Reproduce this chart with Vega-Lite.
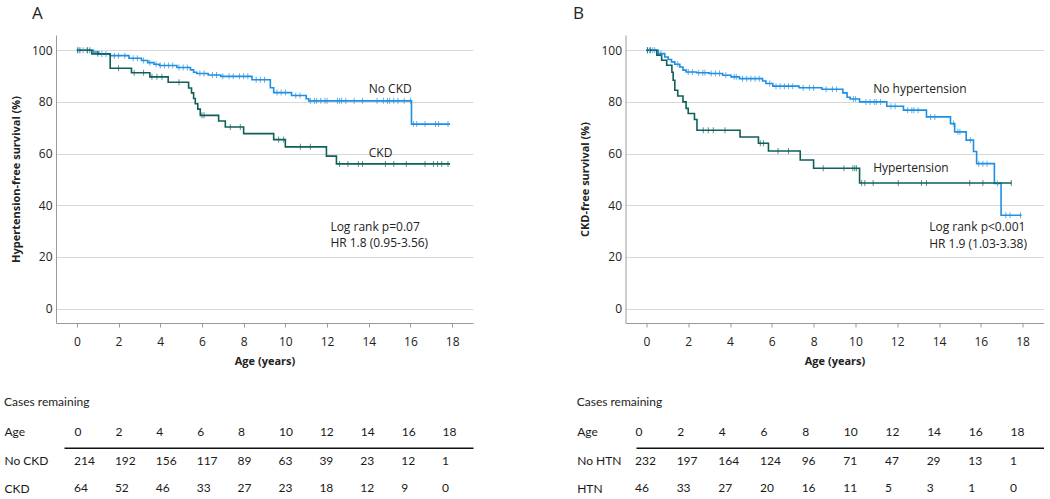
{
  "$schema": "https://vega.github.io/schema/vega-lite/v6.json",
  "padding": {"left": 4, "top": 5, "right": 0, "bottom": 0},
  "background": "white",
  "config": {
    "view": {"stroke": null},
    "font": "Open Sans",
    "axis": {"labelFont": "Open Sans", "titleFont": "Open Sans", "labelColor": "#222222", "titleColor": "#222222"},
    "title": {"font": "Open Sans", "color": "#222222"},
    "text": {"font": "Open Sans", "color": "#222222"}
  },
  "datasets": {
    "kmA": [
      {"g": "No CKD", "t": 0, "v": 100}, {"g": "No CKD", "t": 0.8, "v": 99.3}, {"g": "No CKD", "t": 1.05, "v": 98.5},
      {"g": "No CKD", "t": 1.6, "v": 97.9}, {"g": "No CKD", "t": 2.5, "v": 96.9}, {"g": "No CKD", "t": 3.1, "v": 96.0},
      {"g": "No CKD", "t": 3.4, "v": 95.2}, {"g": "No CKD", "t": 3.7, "v": 94.6}, {"g": "No CKD", "t": 3.95, "v": 94.1},
      {"g": "No CKD", "t": 4.8, "v": 93.3}, {"g": "No CKD", "t": 5.45, "v": 92.4}, {"g": "No CKD", "t": 5.6, "v": 91.5},
      {"g": "No CKD", "t": 5.75, "v": 91.0}, {"g": "No CKD", "t": 6.3, "v": 90.4}, {"g": "No CKD", "t": 6.9, "v": 89.9},
      {"g": "No CKD", "t": 8.4, "v": 88.6}, {"g": "No CKD", "t": 9.28, "v": 85.5}, {"g": "No CKD", "t": 9.44, "v": 83.6},
      {"g": "No CKD", "t": 10.3, "v": 82.5}, {"g": "No CKD", "t": 11.0, "v": 81.2}, {"g": "No CKD", "t": 11.12, "v": 80.4},
      {"g": "No CKD", "t": 16.05, "v": 71.4}, {"g": "No CKD", "t": 17.9, "v": 71.4},
      {"g": "CKD", "t": 0, "v": 100}, {"g": "CKD", "t": 0.72, "v": 98.6}, {"g": "CKD", "t": 1.6, "v": 93.0},
      {"g": "CKD", "t": 2.62, "v": 91.3}, {"g": "CKD", "t": 3.5, "v": 89.7}, {"g": "CKD", "t": 4.38, "v": 87.6},
      {"g": "CKD", "t": 5.36, "v": 85.4}, {"g": "CKD", "t": 5.5, "v": 83.5}, {"g": "CKD", "t": 5.6, "v": 81.3},
      {"g": "CKD", "t": 5.68, "v": 79.3}, {"g": "CKD", "t": 5.8, "v": 77.2}, {"g": "CKD", "t": 5.92, "v": 74.8},
      {"g": "CKD", "t": 6.8, "v": 72.6}, {"g": "CKD", "t": 7.12, "v": 70.3}, {"g": "CKD", "t": 8.0, "v": 67.7},
      {"g": "CKD", "t": 9.44, "v": 65.4}, {"g": "CKD", "t": 10.0, "v": 62.6}, {"g": "CKD", "t": 11.97, "v": 59.0},
      {"g": "CKD", "t": 12.45, "v": 56.0}, {"g": "CKD", "t": 17.9, "v": 56.0}
    ],
    "censA": [
      {"g": "No CKD", "t": 0.1, "v": 100}, {"g": "No CKD", "t": 0.3, "v": 100}, {"g": "No CKD", "t": 0.5, "v": 100},
      {"g": "No CKD", "t": 1.2, "v": 98.5}, {"g": "No CKD", "t": 1.4, "v": 98.5},
      {"g": "No CKD", "t": 1.8, "v": 97.9}, {"g": "No CKD", "t": 2.0, "v": 97.9}, {"g": "No CKD", "t": 2.3, "v": 97.9},
      {"g": "No CKD", "t": 2.7, "v": 96.9}, {"g": "No CKD", "t": 2.9, "v": 96.9},
      {"g": "No CKD", "t": 3.2, "v": 96.0}, {"g": "No CKD", "t": 3.5, "v": 95.2}, {"g": "No CKD", "t": 3.8, "v": 94.6},
      {"g": "No CKD", "t": 4.0, "v": 94.1}, {"g": "No CKD", "t": 4.2, "v": 94.1}, {"g": "No CKD", "t": 4.4, "v": 94.1}, {"g": "No CKD", "t": 4.6, "v": 94.1},
      {"g": "No CKD", "t": 4.9, "v": 93.3}, {"g": "No CKD", "t": 5.1, "v": 93.3}, {"g": "No CKD", "t": 5.3, "v": 93.3},
      {"g": "No CKD", "t": 5.9, "v": 91.0}, {"g": "No CKD", "t": 6.1, "v": 91.0},
      {"g": "No CKD", "t": 6.5, "v": 90.4}, {"g": "No CKD", "t": 6.7, "v": 90.4},
      {"g": "No CKD", "t": 7.0, "v": 89.9}, {"g": "No CKD", "t": 7.3, "v": 89.9}, {"g": "No CKD", "t": 7.5, "v": 89.9},
      {"g": "No CKD", "t": 7.8, "v": 89.9}, {"g": "No CKD", "t": 8.0, "v": 89.9}, {"g": "No CKD", "t": 8.2, "v": 89.9},
      {"g": "No CKD", "t": 8.6, "v": 88.6}, {"g": "No CKD", "t": 8.8, "v": 88.6}, {"g": "No CKD", "t": 9.0, "v": 88.6},
      {"g": "No CKD", "t": 9.6, "v": 83.6}, {"g": "No CKD", "t": 9.8, "v": 83.6}, {"g": "No CKD", "t": 10.0, "v": 83.6},
      {"g": "No CKD", "t": 10.5, "v": 82.5}, {"g": "No CKD", "t": 10.7, "v": 82.5},
      {"g": "No CKD", "t": 11.2, "v": 80.4}, {"g": "No CKD", "t": 11.4, "v": 80.4}, {"g": "No CKD", "t": 11.5, "v": 80.4},
      {"g": "No CKD", "t": 11.7, "v": 80.4}, {"g": "No CKD", "t": 11.9, "v": 80.4}, {"g": "No CKD", "t": 12.0, "v": 80.4},
      {"g": "No CKD", "t": 12.5, "v": 80.4}, {"g": "No CKD", "t": 12.6, "v": 80.4}, {"g": "No CKD", "t": 12.7, "v": 80.4},
      {"g": "No CKD", "t": 12.9, "v": 80.4}, {"g": "No CKD", "t": 13.3, "v": 80.4}, {"g": "No CKD", "t": 13.7, "v": 80.4},
      {"g": "No CKD", "t": 14.4, "v": 80.4}, {"g": "No CKD", "t": 14.7, "v": 80.4}, {"g": "No CKD", "t": 14.9, "v": 80.4},
      {"g": "No CKD", "t": 15.0, "v": 80.4}, {"g": "No CKD", "t": 15.2, "v": 80.4}, {"g": "No CKD", "t": 15.4, "v": 80.4},
      {"g": "No CKD", "t": 15.7, "v": 80.4}, {"g": "No CKD", "t": 16.0, "v": 80.4},
      {"g": "No CKD", "t": 16.15, "v": 71.4}, {"g": "No CKD", "t": 16.3, "v": 71.4}, {"g": "No CKD", "t": 16.7, "v": 71.4},
      {"g": "No CKD", "t": 17.2, "v": 71.4}, {"g": "No CKD", "t": 17.35, "v": 71.4}, {"g": "No CKD", "t": 17.8, "v": 71.4},
      {"g": "CKD", "t": 0.03, "v": 100}, {"g": "CKD", "t": 0.15, "v": 100}, {"g": "CKD", "t": 0.5, "v": 100}, {"g": "CKD", "t": 0.62, "v": 100},
      {"g": "CKD", "t": 1.0, "v": 98.6}, {"g": "CKD", "t": 2.0, "v": 93.0},
      {"g": "CKD", "t": 2.75, "v": 91.3}, {"g": "CKD", "t": 3.2, "v": 91.3},
      {"g": "CKD", "t": 3.6, "v": 89.7}, {"g": "CKD", "t": 3.84, "v": 89.7}, {"g": "CKD", "t": 4.08, "v": 89.7},
      {"g": "CKD", "t": 4.9, "v": 87.6}, {"g": "CKD", "t": 6.0, "v": 74.8}, {"g": "CKD", "t": 6.1, "v": 74.8},
      {"g": "CKD", "t": 7.36, "v": 70.3}, {"g": "CKD", "t": 7.84, "v": 70.3},
      {"g": "CKD", "t": 9.68, "v": 65.4}, {"g": "CKD", "t": 9.92, "v": 65.4},
      {"g": "CKD", "t": 10.72, "v": 62.6}, {"g": "CKD", "t": 11.2, "v": 62.6},
      {"g": "CKD", "t": 12.6, "v": 56.0}, {"g": "CKD", "t": 13.0, "v": 56.0}, {"g": "CKD", "t": 13.5, "v": 56.0},
      {"g": "CKD", "t": 13.7, "v": 56.0}, {"g": "CKD", "t": 14.8, "v": 56.0}, {"g": "CKD", "t": 15.2, "v": 56.0},
      {"g": "CKD", "t": 15.8, "v": 56.0}, {"g": "CKD", "t": 16.7, "v": 56.0}, {"g": "CKD", "t": 17.1, "v": 56.0},
      {"g": "CKD", "t": 17.3, "v": 56.0}, {"g": "CKD", "t": 17.5, "v": 56.0}, {"g": "CKD", "t": 17.8, "v": 56.0}
    ],
    "kmB": [
      {"g": "No hypertension", "t": 0, "v": 100}, {"g": "No hypertension", "t": 0.57, "v": 98.7}, {"g": "No hypertension", "t": 0.88, "v": 97.4},
      {"g": "No hypertension", "t": 1.04, "v": 96.4}, {"g": "No hypertension", "t": 1.2, "v": 95.5}, {"g": "No hypertension", "t": 1.36, "v": 94.6},
      {"g": "No hypertension", "t": 1.6, "v": 93.5}, {"g": "No hypertension", "t": 1.75, "v": 92.3}, {"g": "No hypertension", "t": 1.9, "v": 91.6},
      {"g": "No hypertension", "t": 2.4, "v": 91.3}, {"g": "No hypertension", "t": 3.0, "v": 91.0}, {"g": "No hypertension", "t": 3.65, "v": 90.3},
      {"g": "No hypertension", "t": 4.05, "v": 89.7}, {"g": "No hypertension", "t": 4.45, "v": 89.0}, {"g": "No hypertension", "t": 5.56, "v": 88.1},
      {"g": "No hypertension", "t": 5.72, "v": 87.1}, {"g": "No hypertension", "t": 6.05, "v": 86.1}, {"g": "No hypertension", "t": 7.3, "v": 85.5},
      {"g": "No hypertension", "t": 8.4, "v": 84.9}, {"g": "No hypertension", "t": 9.4, "v": 83.5}, {"g": "No hypertension", "t": 9.6, "v": 81.8},
      {"g": "No hypertension", "t": 9.75, "v": 81.1}, {"g": "No hypertension", "t": 10.2, "v": 80.0}, {"g": "No hypertension", "t": 11.5, "v": 78.3},
      {"g": "No hypertension", "t": 12.3, "v": 76.8}, {"g": "No hypertension", "t": 13.4, "v": 74.2}, {"g": "No hypertension", "t": 14.55, "v": 71.6},
      {"g": "No hypertension", "t": 14.75, "v": 68.4}, {"g": "No hypertension", "t": 15.3, "v": 65.2}, {"g": "No hypertension", "t": 15.65, "v": 60.8},
      {"g": "No hypertension", "t": 15.8, "v": 56.1}, {"g": "No hypertension", "t": 16.65, "v": 48.4}, {"g": "No hypertension", "t": 16.97, "v": 36.1},
      {"g": "No hypertension", "t": 17.95, "v": 36.1},
      {"g": "Hypertension", "t": 0, "v": 100}, {"g": "Hypertension", "t": 0.5, "v": 98.1}, {"g": "Hypertension", "t": 0.73, "v": 96.1},
      {"g": "Hypertension", "t": 0.97, "v": 94.2}, {"g": "Hypertension", "t": 1.22, "v": 91.5}, {"g": "Hypertension", "t": 1.28, "v": 88.4},
      {"g": "Hypertension", "t": 1.36, "v": 84.5}, {"g": "Hypertension", "t": 1.5, "v": 82.3}, {"g": "Hypertension", "t": 1.75, "v": 80.0},
      {"g": "Hypertension", "t": 1.9, "v": 77.5}, {"g": "Hypertension", "t": 2.0, "v": 75.5}, {"g": "Hypertension", "t": 2.3, "v": 73.2},
      {"g": "Hypertension", "t": 2.42, "v": 69.0}, {"g": "Hypertension", "t": 4.48, "v": 66.4}, {"g": "Hypertension", "t": 5.36, "v": 64.0},
      {"g": "Hypertension", "t": 5.84, "v": 61.0}, {"g": "Hypertension", "t": 7.36, "v": 57.5}, {"g": "Hypertension", "t": 8.0, "v": 54.3},
      {"g": "Hypertension", "t": 10.2, "v": 48.6}, {"g": "Hypertension", "t": 17.47, "v": 48.6}
    ],
    "censB": [
      {"g": "No hypertension", "t": 0.05, "v": 100}, {"g": "No hypertension", "t": 0.15, "v": 100}, {"g": "No hypertension", "t": 0.3, "v": 100}, {"g": "No hypertension", "t": 0.4, "v": 100},
      {"g": "No hypertension", "t": 0.7, "v": 98.7}, {"g": "No hypertension", "t": 1.5, "v": 94.6},
      {"g": "No hypertension", "t": 2.0, "v": 91.6}, {"g": "No hypertension", "t": 2.2, "v": 91.6},
      {"g": "No hypertension", "t": 2.5, "v": 91.3}, {"g": "No hypertension", "t": 2.7, "v": 91.3}, {"g": "No hypertension", "t": 2.8, "v": 91.3},
      {"g": "No hypertension", "t": 3.1, "v": 91.0}, {"g": "No hypertension", "t": 3.3, "v": 91.0}, {"g": "No hypertension", "t": 3.5, "v": 91.0},
      {"g": "No hypertension", "t": 3.8, "v": 90.3}, {"g": "No hypertension", "t": 4.2, "v": 89.7}, {"g": "No hypertension", "t": 4.3, "v": 89.7},
      {"g": "No hypertension", "t": 4.6, "v": 89.0}, {"g": "No hypertension", "t": 4.8, "v": 89.0}, {"g": "No hypertension", "t": 5.0, "v": 89.0},
      {"g": "No hypertension", "t": 5.2, "v": 89.0}, {"g": "No hypertension", "t": 5.4, "v": 89.0}, {"g": "No hypertension", "t": 5.9, "v": 87.1},
      {"g": "No hypertension", "t": 6.2, "v": 86.1}, {"g": "No hypertension", "t": 6.4, "v": 86.1}, {"g": "No hypertension", "t": 6.6, "v": 86.1},
      {"g": "No hypertension", "t": 6.8, "v": 86.1}, {"g": "No hypertension", "t": 7.0, "v": 86.1},
      {"g": "No hypertension", "t": 7.5, "v": 85.5}, {"g": "No hypertension", "t": 7.8, "v": 85.5}, {"g": "No hypertension", "t": 8.0, "v": 85.5},
      {"g": "No hypertension", "t": 8.6, "v": 84.9}, {"g": "No hypertension", "t": 8.9, "v": 84.9}, {"g": "No hypertension", "t": 9.1, "v": 84.9},
      {"g": "No hypertension", "t": 9.9, "v": 81.1}, {"g": "No hypertension", "t": 10.0, "v": 81.1},
      {"g": "No hypertension", "t": 10.5, "v": 80.0}, {"g": "No hypertension", "t": 10.7, "v": 80.0}, {"g": "No hypertension", "t": 10.9, "v": 80.0},
      {"g": "No hypertension", "t": 11.0, "v": 80.0}, {"g": "No hypertension", "t": 11.2, "v": 80.0},
      {"g": "No hypertension", "t": 11.7, "v": 78.3}, {"g": "No hypertension", "t": 11.9, "v": 78.3},
      {"g": "No hypertension", "t": 12.5, "v": 76.8}, {"g": "No hypertension", "t": 12.7, "v": 76.8}, {"g": "No hypertension", "t": 12.8, "v": 76.8}, {"g": "No hypertension", "t": 13.0, "v": 76.8},
      {"g": "No hypertension", "t": 13.6, "v": 74.2}, {"g": "No hypertension", "t": 13.8, "v": 74.2}, {"g": "No hypertension", "t": 14.7, "v": 71.6},
      {"g": "No hypertension", "t": 14.9, "v": 68.4}, {"g": "No hypertension", "t": 15.0, "v": 68.4}, {"g": "No hypertension", "t": 15.5, "v": 65.2},
      {"g": "No hypertension", "t": 15.9, "v": 56.1}, {"g": "No hypertension", "t": 16.1, "v": 56.1}, {"g": "No hypertension", "t": 16.3, "v": 56.1},
      {"g": "No hypertension", "t": 16.8, "v": 48.4}, {"g": "No hypertension", "t": 17.2, "v": 36.1}, {"g": "No hypertension", "t": 17.4, "v": 36.1}, {"g": "No hypertension", "t": 17.9, "v": 36.1},
      {"g": "Hypertension", "t": 0.05, "v": 100}, {"g": "Hypertension", "t": 0.2, "v": 100},
      {"g": "Hypertension", "t": 2.72, "v": 69.0}, {"g": "Hypertension", "t": 2.96, "v": 69.0}, {"g": "Hypertension", "t": 3.2, "v": 69.0}, {"g": "Hypertension", "t": 3.76, "v": 69.0},
      {"g": "Hypertension", "t": 5.45, "v": 64.0}, {"g": "Hypertension", "t": 5.6, "v": 64.0},
      {"g": "Hypertension", "t": 6.3, "v": 61.0}, {"g": "Hypertension", "t": 6.8, "v": 61.0},
      {"g": "Hypertension", "t": 8.46, "v": 54.3}, {"g": "Hypertension", "t": 9.45, "v": 54.3}, {"g": "Hypertension", "t": 9.88, "v": 54.3},
      {"g": "Hypertension", "t": 9.97, "v": 54.3}, {"g": "Hypertension", "t": 10.05, "v": 54.3},
      {"g": "Hypertension", "t": 10.3, "v": 48.6}, {"g": "Hypertension", "t": 10.45, "v": 48.6}, {"g": "Hypertension", "t": 10.85, "v": 48.6},
      {"g": "Hypertension", "t": 12.05, "v": 48.6}, {"g": "Hypertension", "t": 13.16, "v": 48.6}, {"g": "Hypertension", "t": 13.4, "v": 48.6},
      {"g": "Hypertension", "t": 15.47, "v": 48.6}, {"g": "Hypertension", "t": 16.1, "v": 48.6}, {"g": "Hypertension", "t": 17.46, "v": 48.6}
    ],
    "tabA": [
      {"row": "No CKD", "age": 0, "n": 214}, {"row": "No CKD", "age": 2, "n": 192}, {"row": "No CKD", "age": 4, "n": 156},
      {"row": "No CKD", "age": 6, "n": 117}, {"row": "No CKD", "age": 8, "n": 89}, {"row": "No CKD", "age": 10, "n": 63},
      {"row": "No CKD", "age": 12, "n": 39}, {"row": "No CKD", "age": 14, "n": 23}, {"row": "No CKD", "age": 16, "n": 12},
      {"row": "No CKD", "age": 18, "n": 1},
      {"row": "CKD", "age": 0, "n": 64}, {"row": "CKD", "age": 2, "n": 52}, {"row": "CKD", "age": 4, "n": 46},
      {"row": "CKD", "age": 6, "n": 33}, {"row": "CKD", "age": 8, "n": 27}, {"row": "CKD", "age": 10, "n": 23},
      {"row": "CKD", "age": 12, "n": 18}, {"row": "CKD", "age": 14, "n": 12}, {"row": "CKD", "age": 16, "n": 9},
      {"row": "CKD", "age": 18, "n": 0}
    ],
    "tabB": [
      {"row": "No HTN", "age": 0, "n": 232}, {"row": "No HTN", "age": 2, "n": 197}, {"row": "No HTN", "age": 4, "n": 164},
      {"row": "No HTN", "age": 6, "n": 124}, {"row": "No HTN", "age": 8, "n": 96}, {"row": "No HTN", "age": 10, "n": 71},
      {"row": "No HTN", "age": 12, "n": 47}, {"row": "No HTN", "age": 14, "n": 29}, {"row": "No HTN", "age": 16, "n": 13},
      {"row": "No HTN", "age": 18, "n": 1},
      {"row": "HTN", "age": 0, "n": 46}, {"row": "HTN", "age": 2, "n": 33}, {"row": "HTN", "age": 4, "n": 27},
      {"row": "HTN", "age": 6, "n": 20}, {"row": "HTN", "age": 8, "n": 16}, {"row": "HTN", "age": 10, "n": 11},
      {"row": "HTN", "age": 12, "n": 5}, {"row": "HTN", "age": 14, "n": 3}, {"row": "HTN", "age": 16, "n": 1},
      {"row": "HTN", "age": 18, "n": 0}
    ]
  },
  "bounds": "flush",
  "spacing": 569.5,
  "hconcat": [
    {
      "bounds": "flush",
      "spacing": 124.7,
      "vconcat": [
        {
          "width": 417,
          "height": 288,
          "title": {"text": "A", "anchor": "start", "frame": "group", "dx": -24, "offset": 12, "fontSize": 17, "fontWeight": "normal"},
          "layer": [
            {
              "data": {"name": "kmA"},
              "mark": {"type": "line", "interpolate": "step-after", "strokeWidth": 1.6},
              "encoding": {
                "x": {"field": "t", "type": "quantitative", "scale": {"domain": [-1, 19], "nice": false, "zero": false},
                  "axis": {"title": "Age (years)", "values": [0, 2, 4, 6, 8, 10, 12, 14, 16, 18], "grid": false, "domainColor": "#9a9a9a", "tickColor": "#9a9a9a", "tickSize": 4, "labelFontSize": 12, "labelPadding": 9, "labelFlush": false, "titleFontSize": 11, "titleFontWeight": "bold", "titlePadding": 8}},
                "y": {"field": "v", "type": "quantitative", "scale": {"domain": [-5.6, 105.9], "nice": false, "zero": false},
                  "axis": {"title": "Hypertension-free survival (%)", "values": [0, 20, 40, 60, 80, 100], "grid": true, "gridColor": "#d8d8d8", "ticks": false, "domainColor": "#9a9a9a", "labelFontSize": 12, "labelPadding": 4, "titleFontSize": 11, "titleFontWeight": "bold", "titlePadding": 10}},
                "color": {"field": "g", "type": "nominal", "scale": {"domain": ["No CKD", "CKD"], "range": ["#1f8fe3", "#0f5f5a"]}, "legend": null}
              }
            },
            {
              "data": {"name": "censA"},
              "mark": {"type": "tick", "orient": "vertical", "size": 6, "thickness": 1},
              "encoding": {
                "x": {"field": "t", "type": "quantitative"},
                "y": {"field": "v", "type": "quantitative"},
                "color": {"field": "g", "type": "nominal", "legend": null}
              }
            },
            {
              "data": {"values": [{}]},
              "mark": {"type": "text", "align": "left", "baseline": "middle", "fontSize": 12},
              "encoding": {"x": {"datum": 14.0}, "y": {"datum": 84.9}, "text": {"value": "No CKD"}}
            },
            {
              "data": {"values": [{}]},
              "mark": {"type": "text", "align": "left", "baseline": "middle", "fontSize": 12},
              "encoding": {"x": {"datum": 14.0}, "y": {"datum": 60.2}, "text": {"value": "CKD"}}
            },
            {
              "data": {"values": [{}]},
              "mark": {"type": "text", "align": "left", "baseline": "middle", "fontSize": 12},
              "encoding": {"x": {"datum": 12.16}, "y": {"datum": 31.6}, "text": {"value": "Log rank p=0.07"}}
            },
            {
              "data": {"values": [{}]},
              "mark": {"type": "text", "align": "left", "baseline": "middle", "fontSize": 12},
              "encoding": {"x": {"datum": 12.16}, "y": {"datum": 25.2}, "text": {"value": "HR 1.8 (0.95-3.56)"}}
            }
          ]
        },
        {
          "width": 417,
          "height": 44,
          "title": {"text": "Cases remaining", "anchor": "start", "frame": "group", "dx": -52, "offset": 17, "fontSize": 12, "font": "Lato", "fontWeight": "normal"},
          "data": {"name": "tabA"},
          "mark": {"type": "text", "align": "left", "baseline": "middle", "font": "Lato", "fontSize": 12, "color": "#1a1a1a"},
          "encoding": {
            "x": {"field": "age", "type": "quantitative", "scale": {"domain": [-0.88, 19.51], "nice": false, "zero": false},
              "axis": {"orient": "top", "values": [0, 2, 4, 6, 8, 10, 12, 14, 16, 18], "ticks": false, "grid": false, "domainColor": "#111111", "domainWidth": 1.5, "domainDash": [409, 1000], "domainDashOffset": -8, "labelAlign": "left", "labelBaseline": "middle", "labelFont": "Lato", "labelFontSize": 12, "labelColor": "#1a1a1a", "labelPadding": 16, "labelFlush": false,
                "title": "Age", "titleX": -52, "titleY": -16, "titleAlign": "left", "titleAngle": 0, "titleBaseline": "middle", "titleFont": "Lato", "titleFontSize": 12, "titleFontWeight": "normal", "titleColor": "#1a1a1a"}},
            "y": {"field": "row", "type": "nominal", "scale": {"type": "point", "domain": ["No CKD", "CKD"], "range": [13, 40.3], "padding": 0},
              "axis": {"title": null, "ticks": false, "domain": false, "labelAlign": "left", "labelBaseline": "middle", "labelPadding": 52, "labelFont": "Lato", "labelFontSize": 12, "labelColor": "#1a1a1a"}},
            "text": {"field": "n", "type": "quantitative"}
          }
        }
      ]
    },
    {
      "bounds": "flush",
      "spacing": 124.7,
      "vconcat": [
        {
          "width": 418,
          "height": 288,
          "title": {"text": "B", "anchor": "start", "frame": "group", "dx": -52.5, "offset": 12, "fontSize": 17, "fontWeight": "normal"},
          "layer": [
            {
              "data": {"name": "kmB"},
              "mark": {"type": "line", "interpolate": "step-after", "strokeWidth": 1.6},
              "encoding": {
                "x": {"field": "t", "type": "quantitative", "scale": {"domain": [-1, 19], "nice": false, "zero": false},
                  "axis": {"title": "Age (years)", "values": [0, 2, 4, 6, 8, 10, 12, 14, 16, 18], "grid": false, "domainColor": "#9a9a9a", "tickColor": "#9a9a9a", "tickSize": 4, "labelFontSize": 12, "labelPadding": 9, "labelFlush": false, "titleFontSize": 11, "titleFontWeight": "bold", "titlePadding": 8}},
                "y": {"field": "v", "type": "quantitative", "scale": {"domain": [-5.6, 105.9], "nice": false, "zero": false},
                  "axis": {"title": "CKD-free survival (%)", "values": [0, 20, 40, 60, 80, 100], "grid": true, "gridColor": "#d8d8d8", "ticks": false, "domainColor": "#9a9a9a", "labelFontSize": 12, "labelPadding": 4, "titleFontSize": 11, "titleFontWeight": "bold", "titlePadding": 10}},
                "color": {"field": "g", "type": "nominal", "scale": {"domain": ["No hypertension", "Hypertension"], "range": ["#1f8fe3", "#0f5f5a"]}, "legend": null}
              }
            },
            {
              "data": {"name": "censB"},
              "mark": {"type": "tick", "orient": "vertical", "size": 6, "thickness": 1},
              "encoding": {
                "x": {"field": "t", "type": "quantitative"},
                "y": {"field": "v", "type": "quantitative"},
                "color": {"field": "g", "type": "nominal", "legend": null}
              }
            },
            {
              "data": {"values": [{}]},
              "mark": {"type": "text", "align": "left", "baseline": "middle", "fontSize": 12},
              "encoding": {"x": {"datum": 10.85}, "y": {"datum": 84.9}, "text": {"value": "No hypertension"}}
            },
            {
              "data": {"values": [{}]},
              "mark": {"type": "text", "align": "left", "baseline": "middle", "fontSize": 12},
              "encoding": {"x": {"datum": 10.85}, "y": {"datum": 54.5}, "text": {"value": "Hypertension"}}
            },
            {
              "data": {"values": [{}]},
              "mark": {"type": "text", "align": "left", "baseline": "middle", "fontSize": 12},
              "encoding": {"x": {"datum": 13.53}, "y": {"datum": 31.6}, "text": {"value": "Log rank p<0.001"}}
            },
            {
              "data": {"values": [{}]},
              "mark": {"type": "text", "align": "left", "baseline": "middle", "fontSize": 12},
              "encoding": {"x": {"datum": 13.53}, "y": {"datum": 24.9}, "text": {"value": "HR 1.9 (1.03-3.38)"}}
            }
          ]
        },
        {
          "width": 418,
          "height": 44,
          "title": {"text": "Cases remaining", "anchor": "start", "frame": "group", "dx": -48.8, "offset": 17, "fontSize": 12, "font": "Lato", "fontWeight": "normal"},
          "data": {"name": "tabB"},
          "mark": {"type": "text", "align": "left", "baseline": "middle", "font": "Lato", "fontSize": 12, "color": "#1a1a1a"},
          "encoding": {
            "x": {"field": "age", "type": "quantitative", "scale": {"domain": [-0.456, 19.61], "nice": false, "zero": false},
              "axis": {"orient": "top", "values": [0, 2, 4, 6, 8, 10, 12, 14, 16, 18], "ticks": false, "grid": false, "domainColor": "#111111", "domainWidth": 1.5, "domainDash": [409, 1000], "domainDashOffset": -10.5, "labelAlign": "left", "labelBaseline": "middle", "labelFont": "Lato", "labelFontSize": 12, "labelColor": "#1a1a1a", "labelPadding": 16, "labelFlush": false,
                "title": "Age", "titleX": -48.8, "titleY": -16, "titleAlign": "left", "titleAngle": 0, "titleBaseline": "middle", "titleFont": "Lato", "titleFontSize": 12, "titleFontWeight": "normal", "titleColor": "#1a1a1a"}},
            "y": {"field": "row", "type": "nominal", "scale": {"type": "point", "domain": ["No HTN", "HTN"], "range": [13, 40.3], "padding": 0},
              "axis": {"title": null, "ticks": false, "domain": false, "labelAlign": "left", "labelBaseline": "middle", "labelPadding": 48.8, "labelFont": "Lato", "labelFontSize": 12, "labelColor": "#1a1a1a"}},
            "text": {"field": "n", "type": "quantitative"}
          }
        }
      ]
    }
  ]
}
